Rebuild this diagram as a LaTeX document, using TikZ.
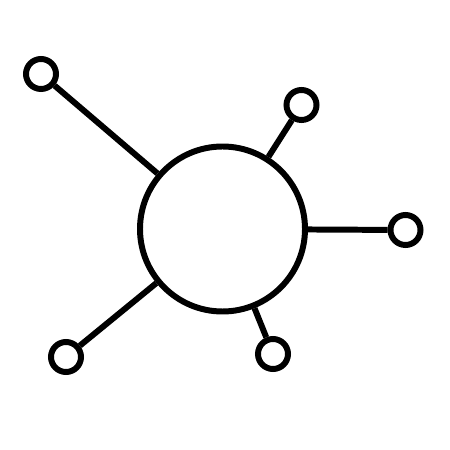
\documentclass[tikz,border=0pt]{standalone}
\usepackage{tikz}
\usetikzlibrary{positioning}
\tikzset{
        hub/.style={circle, draw, fill=white, minimum size=3.3cm, inner sep=0pt},
        leaf/.style={circle, draw, fill=white, minimum size=0.6cm, inner sep=0pt},
    }

\begin{document}
\begin{tikzpicture}[line width=3.4pt] % thick black strokes
    \useasboundingbox (0,0) rectangle (9,9);
    \node [hub] (hub) at (4.45,4.42) {};
    \node [leaf] (tl) at (0.82,7.52) {};
    \node [leaf] (tr) at (6.03,6.90) {};
    \node [leaf] (r)  at (8.11,4.40) {};
    \node [leaf] (bl) at (1.32,1.86) {};
    \node [leaf] (b)  at (5.46,1.92) {};
    \foreach \leafname in {tl,tr,r,bl,b}
        \draw (hub) -- (\leafname);
\end{tikzpicture}
\end{document}
